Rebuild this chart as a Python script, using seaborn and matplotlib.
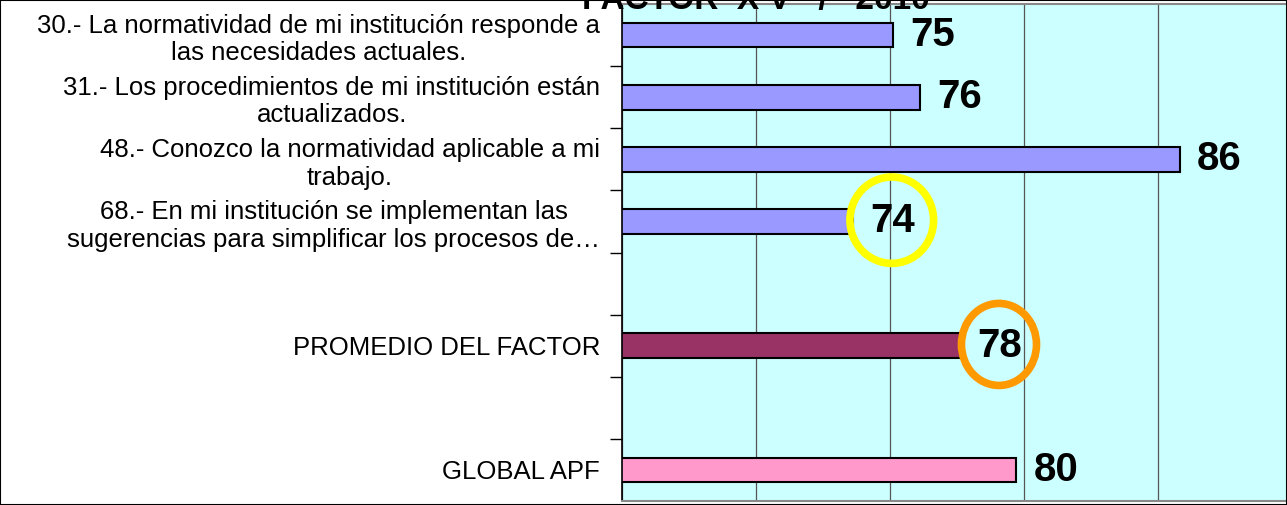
import numpy as np
import pandas as pd
import matplotlib
matplotlib.use("Agg")
import matplotlib.pyplot as plt
from matplotlib.patches import Ellipse, Rectangle
import seaborn as sns

# data
preguntas = [
    "30.- La normatividad de mi institución responde a\nlas necesidades actuales.",
    "31.- Los procedimientos de mi institución están\nactualizados.",
    "48.- Conozco la normatividad aplicable a mi\ntrabajo.",
    "68.- En mi institución se implementan las\nsugerencias para simplificar los procesos de…",
    " ",
    "PROMEDIO DEL FACTOR",
    "  ",
    "GLOBAL APF",
]
valores = [75.1, 76.1, 85.8, 73.6, np.nan, 77.6, np.nan, 79.7]
etiquetas = ["75", "76", "86", "74", "", "78", "", "80"]
colores = ["#9999FF", "#9999FF", "#9999FF", "#9999FF", "#FFFFFF", "#993366", "#FFFFFF", "#FF99CC"]
resaltados = {"74": "#FFFF00", "78": "#FF9900"}
titulo = "FACTOR  X V   /   2010"

sns.set_theme(style="white")
plt.rcParams["font.family"] = ["Liberation Sans", "DejaVu Sans"]
plt.rcParams["text.color"] = "black"
plt.rcParams["ytick.labelcolor"] = "black"

df = pd.DataFrame({"pregunta": preguntas, "valor": valores})

fig = plt.figure(figsize=(12.87, 5.05), dpi=100)
ax = fig.add_axes([622.3 / 1287, 4 / 505, 670 / 1287, 497 / 505])
ax.set_facecolor("#CCFFFF")

sns.barplot(data=df.dropna(), x="valor", y="pregunta", hue="pregunta", order=preguntas,
            hue_order=preguntas, palette=dict(zip(preguntas, colores)), legend=False,
            saturation=1, width=0.4, edgecolor="black", linewidth=1.5, ax=ax)

ax.set_xlim(65, 90)
ax.set_ylim(7.5, -0.5)
ax.set_xticks(np.arange(65, 91, 5))
ax.set_xticklabels([])
ax.grid(axis="x", color="#555555", linewidth=0.9)
ax.set_axisbelow(True)
ax.set_xlabel("")
ax.set_ylabel("")

ax.set_yticks(range(len(preguntas)))
ax.set_yticklabels(preguntas, fontsize=18.5, ha="right", multialignment="center",
                   linespacing=1.2)
ax.tick_params(axis="y", which="major", length=0, pad=16)
ax.set_yticks(np.arange(0.5, 7.5, 1), minor=True)
ax.tick_params(axis="y", which="minor", left=True, length=9, width=1, color="black")
ax.tick_params(axis="x", length=0)

for s in ["top", "bottom"]:
    ax.spines[s].set_color("#888888")
    ax.spines[s].set_linewidth(1.5)
ax.spines["left"].set_color("black")
ax.spines["left"].set_linewidth(1.2)
ax.spines["right"].set_visible(False)

px = 26.8  # pixels per unit on the value axis
for i, (v, t) in enumerate(zip(valores, etiquetas)):
    if not t:
        continue
    x0 = v + 17 / px
    ax.text(x0, i, t, fontsize=29, fontweight="bold", ha="left", va="center", zorder=5)
    if t in resaltados:
        cx = x0 + 22 / px
        w, h = (3.12, 1.39) if t == "74" else (2.8, 1.32)
        ax.add_patch(Ellipse((cx, i - 0.02), w, h, fill=False,
                             edgecolor=resaltados[t], linewidth=5.5, zorder=4))

fig.text(756 / 1287, 1 - 9 / 505, titulo, fontsize=24, fontweight="bold",
         ha="center", va="baseline")
fig.patches.append(Rectangle((0, 0), 1, 1, transform=fig.transFigure, fill=False,
                             edgecolor="black", linewidth=1.5))

fig.savefig("out.png", dpi=100)
